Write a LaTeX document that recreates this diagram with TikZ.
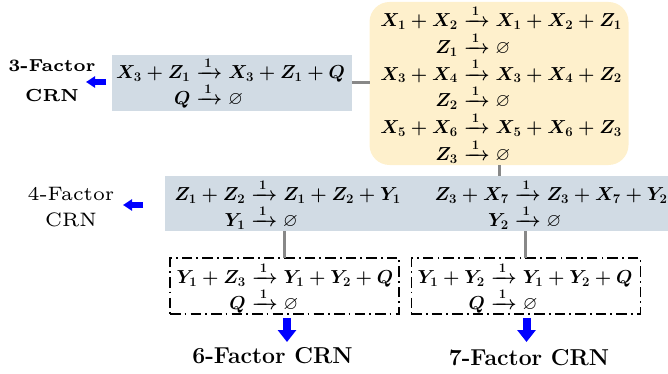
\RequirePackage{fix-cm}
\documentclass[tikz,border=0pt]{standalone}
\usepackage{amsmath,amssymb,graphicx}
\usetikzlibrary{arrows.meta}
\definecolor{boxblue}{HTML}{D1DBE4}
\definecolor{boxyellow}{HTML}{FEF0CC}
\definecolor{linegray}{HTML}{888888}
\newcommand{\rxn}{\xrightarrow{\mkern4mu 1\mkern4mu}}
\newsavebox{\crnThree}
\newsavebox{\crnYel}
\newsavebox{\crnFourL}
\newsavebox{\crnFourR}
\newsavebox{\crnSix}
\newsavebox{\crnSeven}
\begin{document}
\renewcommand{\arraystretch}{1}
\fontsize{18.8}{16}\selectfont
\sbox{\crnThree}{\boldmath$\begin{array}{@{}r@{}l@{}}
X_3+Z_1 & {}\rxn X_3+Z_1+Q\\
Q & {}\rxn\varnothing
\end{array}$}
\sbox{\crnFourL}{\boldmath$\begin{array}{@{}r@{}l@{}}
Z_1+Z_2 & {}\rxn Z_1+Z_2+Y_1\\
Y_1 & {}\rxn\varnothing
\end{array}$}
\sbox{\crnFourR}{\boldmath$\begin{array}{@{}r@{}l@{}}
Z_3+X_7 & {}\rxn Z_3+X_7+Y_2\\
Y_2 & {}\rxn\varnothing
\end{array}$}
\sbox{\crnSix}{\boldmath$\begin{array}{@{}r@{}l@{}}
Y_1+Z_3 & {}\rxn Y_1+Y_2+Q\\
Q & {}\rxn\varnothing
\end{array}$}
\sbox{\crnSeven}{\boldmath$\begin{array}{@{}r@{}l@{}}
Y_1+Y_2 & {}\rxn Y_1+Y_2+Q\\
Q & {}\rxn\varnothing
\end{array}$}
\fontsize{18.8}{18}\selectfont
\sbox{\crnYel}{\boldmath$\begin{array}{@{}r@{}l@{}}
X_1+X_2 & {}\rxn X_1+X_2+Z_1\\
Z_1 & {}\rxn\varnothing\\
X_3+X_4 & {}\rxn X_3+X_4+Z_2\\
Z_2 & {}\rxn\varnothing\\
X_5+X_6 & {}\rxn X_5+X_6+Z_3\\
Z_3 & {}\rxn\varnothing
\end{array}$}
\begin{tikzpicture}[x=1pt,y=-1pt,
  every node/.style={inner sep=0pt, outer sep=0pt},
  bluebox/.style={fill=boxblue, minimum width=#1, minimum height=56pt},
  yellowbox/.style={fill=boxyellow, rounded corners=20pt, minimum width=259pt, minimum height=163pt},
  dashbox/.style={draw=black, dash pattern=on 10.5pt off 4pt on 1.7pt off 4.3pt, line width=1.2pt, minimum width=229pt, minimum height=56pt},
  conn/.style={draw=linegray, line width=3pt},
  sidearrow/.style={draw=blue, line width=5.3pt, -{Triangle[width=11pt,length=9pt]}},
  downarrow/.style={draw=blue, line width=8pt, -{Triangle[width=18pt,length=12pt]}},
  lbl/.style={font=\fontsize{18}{30}\selectfont, align=center},
  lblr/.style={font=\fontsize{19}{26}\selectfont, align=center},
  lblb/.style={font=\fontsize{23}{26}\selectfont\bfseries}
]
\useasboundingbox (0,0) rectangle (668,374);
% boxes
\node[bluebox=239.5pt] (three) at (232,83) {};
\node[yellowbox] (yel) at (499,83.5) {};
\node[bluebox=503pt, minimum height=55pt] (four) at (416.5,203.5) {};
\node[dashbox] (six) at (284.5,286) {};
\node[dashbox] (seven) at (525.8,286) {};
% texts
\node (threet) at (230.5,83.5) {\usebox{\crnThree}};
\node (yelt) at (501,85.5) {\usebox{\crnYel}};
\node (fourl) at (287.5,205.5) {\usebox{\crnFourL}};
\node (fourr) at (551,205.5) {\usebox{\crnFourR}};
\node (sixt) at (285,288) {\usebox{\crnSix}};
\node (sevent) at (525,288) {\usebox{\crnSeven}};
% connectors
\draw[conn] (three.east) -- (yel.west |- three.east);
\draw[conn] (yel.south) -- (yel.south |- four.north);
\draw[conn] (six.north |- four.south) -- (six.north);
\draw[conn] (seven.north |- four.south) -- (seven.north);
% labels
\node[lbl] (l3) at (52,80.5) {\scalebox{2.9}{\fontsize{6}{7}\selectfont\bfseries 3-Factor}\\\scalebox{2.9}{\fontsize{6}{7}\selectfont\bfseries CRN}};
\node[lblr] (l4) at (71,207) {\scalebox{3.25}{\fontsize{6}{7}\selectfont 4-Factor}\\\scalebox{3.25}{\fontsize{6}{7}\selectfont CRN}};
\node[lblb] (l6) at (272.5,355.5) {6-Factor CRN};
\node[lblb] (l7) at (529,358) {7-Factor CRN};
% blue arrows
\coordinate (a3s) at (106,82); \coordinate (a3e) at (86,82);
\coordinate (a4s) at (143,205); \coordinate (a4e) at (123,205);
\coordinate (a6s) at (287,318); \coordinate (a6e) at (287,342);
\coordinate (a7s) at (526.5,318); \coordinate (a7e) at (526.5,342);
\draw[sidearrow] (a3s) -- (a3e);
\draw[sidearrow] (a4s) -- (a4e);
\draw[downarrow] (a6s) -- (a6e);
\draw[downarrow] (a7s) -- (a7e);
\end{tikzpicture}
\end{document}
